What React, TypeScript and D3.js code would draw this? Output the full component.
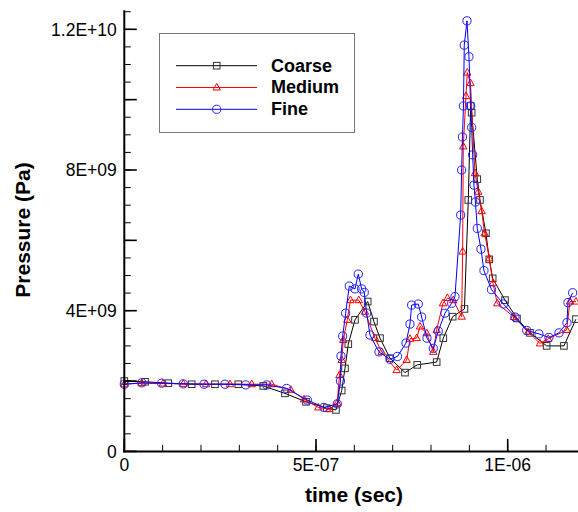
import * as d3 from 'd3';

const WIDTH = 578;
const HEIGHT = 512;

// values: time in s, pressure in Pa
const coarseTime = [0, 54.0e-9, 114.8e-9, 175.8e-9, 236.5e-9, 297.3e-9, 362.5e-9, 419.1e-9, 473.9e-9, 527.9e-9, 552.1e-9, 567.0e-9, 575.6e-9, 584.2e-9, 601.7e-9, 634.8e-9, 651.2e-9, 666.9e-9, 692.9e-9, 732.1e-9, 764.1e-9, 814.7e-9, 832.0e-9, 856.5e-9, 887.2e-9, 897.2e-9, 903.4e-9, 906.0e-9, 920.6e-9, 927.7e-9, 943.3e-9, 951.9e-9, 960.8e-9, 992.9e-9, 1024.2e-9, 1058.1e-9, 1101.6e-9, 1146.7e-9, 1178.0e-9];
const coarsePressure = [2.0e9, 1.98e9, 1.94e9, 1.91e9, 1.91e9, 1.91e9, 1.86e9, 1.65e9, 1.41e9, 1.23e9, 1.18e9, 1.73e9, 2.36e9, 3.05e9, 3.74e9, 4.26e9, 3.69e9, 3.22e9, 2.65e9, 2.24e9, 2.46e9, 2.54e9, 3.22e9, 3.83e9, 4.05e9, 7.15e9, 9.82e9, 9.63e9, 7.74e9, 7.15e9, 6.2e9, 5.46e9, 4.92e9, 4.3e9, 3.78e9, 3.37e9, 3.0e9, 3.0e9, 3.76e9];

const mediumTime = [0, 45.4e-9, 100.9e-9, 153.9e-9, 213.1e-9, 275.7e-9, 332.3e-9, 384.4e-9, 434.0e-9, 468.7e-9, 506.0e-9, 534.6e-9, 555.5e-9, 561.2e-9, 567.0e-9, 571.2e-9, 581.6e-9, 589.9e-9, 611.6e-9, 627.7e-9, 653.8e-9, 671.3e-9, 710.4e-9, 736.5e-9, 745.1e-9, 762.6e-9, 771.2e-9, 788.7e-9, 805.9e-9, 814.7e-9, 831.2e-9, 842.9e-9, 858.0e-9, 879.9e-9, 882.5e-9, 884.1e-9, 891.2e-9, 894.5e-9, 902.9e-9, 914.6e-9, 923.2e-9, 932.1e-9, 939.9e-9, 951.9e-9, 961.6e-9, 972.8e-9, 1016.3e-9, 1053.6e-9, 1084.1e-9, 1105.8e-9, 1153.8e-9, 1162.4e-9, 1178.0e-9];
const mediumPressure = [1.91e9, 1.94e9, 1.93e9, 1.92e9, 1.91e9, 1.91e9, 1.91e9, 1.91e9, 1.75e9, 1.48e9, 1.25e9, 1.2e9, 1.38e9, 2.17e9, 2.6e9, 3.17e9, 3.74e9, 4.3e9, 4.3e9, 3.97e9, 3.22e9, 2.83e9, 2.31e9, 2.6e9, 3.2e9, 3.22e9, 3.55e9, 3.36e9, 2.83e9, 3.45e9, 4.21e9, 4.36e9, 4.3e9, 3.83e9, 5.68e9, 8.67e9, 10.1e9, 10.77e9, 10.47e9, 7.91e9, 7.38e9, 6.83e9, 6.2e9, 5.49e9, 4.78e9, 4.21e9, 3.82e9, 3.4e9, 3.07e9, 3.2e9, 3.45e9, 4.26e9, 4.26e9];

const fineTime = [0, 45.4e-9, 97.5e-9, 153.9e-9, 207.9e-9, 262.6e-9, 316.6e-9, 371.4e-9, 423.5e-9, 477.3e-9, 520.8e-9, 555.5e-9, 563.9e-9, 565.2e-9, 569.6e-9, 577.4e-9, 586.8e-9, 601.7e-9, 610.3e-9, 619.1e-9, 625.9e-9, 632.2e-9, 640.8e-9, 664.3e-9, 692.9e-9, 712.5e-9, 734.7e-9, 745.1e-9, 749.5e-9, 766.8e-9, 775.6e-9, 789.4e-9, 805.9e-9, 818.9e-9, 836.4e-9, 853.9e-9, 862.5e-9, 877.3e-9, 879.9e-9, 882.0e-9, 884.6e-9, 886.7e-9, 893.8e-9, 899.0e-9, 903.4e-9, 906.0e-9, 908.6e-9, 912.0e-9, 915.9e-9, 920.6e-9, 930.3e-9, 938.1e-9, 957.7e-9, 989.0e-9, 1018.9e-9, 1049.5e-9, 1081.5e-9, 1107.6e-9, 1133.7e-9, 1154.6e-9, 1157.2e-9, 1169.4e-9];
const finePressure = [1.91e9, 1.95e9, 1.94e9, 1.92e9, 1.91e9, 1.91e9, 1.89e9, 1.89e9, 1.79e9, 1.46e9, 1.25e9, 1.35e9, 2.0e9, 2.71e9, 3.28e9, 3.93e9, 4.7e9, 4.62e9, 5.04e9, 4.62e9, 4.52e9, 3.93e9, 3.31e9, 2.83e9, 2.62e9, 2.7e9, 3.08e9, 3.62e9, 4.16e9, 4.19e9, 3.82e9, 3.22e9, 2.93e9, 3.42e9, 3.93e9, 4.21e9, 4.4e9, 6.72e9, 8.0e9, 8.94e9, 9.82e9, 11.55e9, 12.24e9, 11.22e9, 9.82e9, 9.21e9, 8.43e9, 7.57e9, 7.09e9, 6.34e9, 5.75e9, 5.14e9, 4.6e9, 4.19e9, 3.82e9, 3.44e9, 3.34e9, 3.24e9, 3.37e9, 3.66e9, 4.23e9, 4.51e9];

const seriesNames = ['Coarse', 'Medium', 'Fine'];
const xTickValues = [0, 5e-7, 1e-6];
const xTickLabels = ['0', '5E-07', '1E-06'];
const yTickValues = [0, 4e9, 8e9, 1.2e10];
const yTickLabels = ['0', '4E+09', '8E+09', '1.2E+10'];

const FONT = '"Liberation Sans", Arial, Helvetica, sans-serif';

type Pt = { t: number; p: number };

function zipSeries(ts: number[], ps: number[]): Pt[] {
  return ts.map((t, i) => ({ t, p: ps[i] }));
}

function Marker({ kind, x, y, color }: { kind: string; x: number; y: number; color: string }) {
  if (kind === 'square') {
    return <rect x={x - 3.3} y={y - 3.3} width={6.6} height={6.6} fill="none" stroke={color} strokeWidth={1} />;
  }
  if (kind === 'triangle') {
    const h = 6.6;
    const w = 7.4;
    const d = `M${x},${y - h * 0.62}L${x + w / 2},${y + h * 0.38}L${x - w / 2},${y + h * 0.38}Z`;
    return <path d={d} fill="none" stroke={color} strokeWidth={1} />;
  }
  return <circle cx={x} cy={y} r={4.1} fill="none" stroke={color} strokeWidth={1} />;
}

export default function App() {
  const x = d3.scaleLinear().domain([0, 1e-6]).range([124.3, 507.7]);
  const y = d3.scaleLinear().domain([0, 1.2e10]).range([451.4, 29.3]);

  const series = [
    { name: seriesNames[0], data: zipSeries(coarseTime, coarsePressure), color: '#000000', markColor: '#333333', kind: 'square' },
    { name: seriesNames[1], data: zipSeries(mediumTime, mediumPressure), color: '#ff0000', markColor: '#ff0000', kind: 'triangle' },
    { name: seriesNames[2], data: zipSeries(fineTime, finePressure), color: '#0000ff', markColor: '#2222ff', kind: 'circle' },
  ];

  const line = d3
    .line<Pt>()
    .x((d) => x(d.t))
    .y((d) => y(d.p));

  const xMinor = d3.range(0, 1.2e-6 + 1e-12, 1e-7);
  const xMajor = d3.range(0, 1.2e-6 + 1e-12, 5e-7);
  const yMinor = d3.range(0, 1.25e10 + 1, 5e8);
  const yMajor = d3.range(0, 1.2e10 + 1, 2e9);

  const x0 = x(0);
  const y0 = y(0);
  const yTop = y(1.254e10);
  const xEnd = x(1.2e-6);

  const legendX = 159.5;
  const legendY = 33.5;

  return (
    <svg width={WIDTH} height={HEIGHT} style={{ position: 'absolute', left: 0, top: 0, background: '#fff' }} fontFamily={FONT}>
      <rect width={WIDTH} height={HEIGHT} fill="#fff" />

      {/* series */}
      {series.map((s) => (
        <g key={s.name}>
          <path d={line(s.data) ?? ''} fill="none" stroke={s.color} strokeWidth={1} />
          {s.data.map((d, i) => (
            <Marker key={i} kind={s.kind} x={x(d.t)} y={y(d.p)} color={s.markColor} />
          ))}
        </g>
      ))}

      {/* axes */}
      <g stroke="#000">
        <line x1={x0} x2={x0} y1={yTop} y2={y0 + 1} strokeWidth={2} />
        <line x1={x0 - 1} x2={xEnd} y1={y0} y2={y0} strokeWidth={2} />
        {yMinor.map((v) => (
          <line key={'ym' + v} x1={x0} x2={x0 + 6.5} y1={y(v)} y2={y(v)} strokeWidth={1} />
        ))}
        {yMajor.map((v) => (
          <line key={'yM' + v} x1={x0} x2={x0 + 12.5} y1={y(v)} y2={y(v)} strokeWidth={1.6} />
        ))}
        {xMinor.map((v) => (
          <line key={'xm' + v} x1={x(v)} x2={x(v)} y1={y0} y2={y0 - 6.5} strokeWidth={1} />
        ))}
        {xMajor.map((v) => (
          <line key={'xM' + v} x1={x(v)} x2={x(v)} y1={y0} y2={y0 - 12.5} strokeWidth={1.6} />
        ))}
      </g>

      {yTickValues.map((v, i) => (
        <text key={'yl' + v} x={x0 - 7.5} y={y(v)} dy="0.36em" textAnchor="end" fontSize={17.5} fill="#000">
          {yTickLabels[i]}
        </text>
      ))}
      {xTickValues.map((v, i) => (
        <text key={'xl' + v} x={x(v)} y={y0 + 19.5} textAnchor="middle" fontSize={17.5} fill="#000">
          {xTickLabels[i]}
        </text>
      ))}

      <text x={354} y={502} textAnchor="middle" fontSize={21} fontWeight="bold" fill="#000">
        time (sec)
      </text>
      <text
        transform={`translate(30,${230}) rotate(-90)`}
        textAnchor="middle"
        fontSize={21}
        fontWeight="bold"
        fill="#000"
      >
        Pressure (Pa)
      </text>

      {/* legend */}
      <rect x={legendX} y={legendY} width={195} height={99} fill="#fff" stroke="#777" strokeWidth={1} />
      {series.map((s, i) => {
        const ly = 65.7 + i * 21.8;
        return (
          <g key={'lg' + s.name}>
            <line x1={176} x2={257} y1={ly} y2={ly} stroke={s.color} strokeWidth={1} />
            <Marker kind={s.kind} x={216.7} y={ly} color={s.markColor} />
            <text x={271} y={ly + 5.8} fontSize={18} fontWeight="bold" fill="#000">
              {s.name}
            </text>
          </g>
        );
      })}
    </svg>
  );
}
